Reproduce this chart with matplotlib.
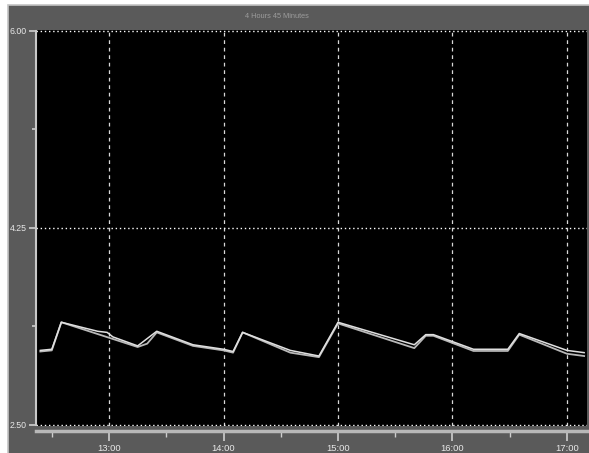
import matplotlib
matplotlib.use("Agg")
import matplotlib.pyplot as plt
from matplotlib.patches import Rectangle
from matplotlib.ticker import FixedLocator, FuncFormatter

# two readings over the afternoon
times_a = ["12:24", "12:30", "12:35", "12:54", "12:59", "13:02", "13:15", "13:25", "13:44",
           "14:00", "14:05", "14:10", "14:35", "14:50", "15:00", "15:40", "15:46", "15:50",
           "16:11", "16:25", "16:29", "16:35", "17:00", "17:09"]
values_a = [3.16, 3.17, 3.41, 3.33, 3.32, 3.28, 3.20, 3.33, 3.21,
            3.17, 3.15, 3.32, 3.16, 3.11, 3.41, 3.21, 3.30, 3.30,
            3.17, 3.17, 3.17, 3.31, 3.16, 3.14]

times_b = ["12:24", "12:30", "12:35", "13:15", "13:20", "13:25", "13:44", "14:00", "14:05",
           "14:10", "14:35", "14:50", "15:00", "15:40", "15:46", "15:50", "16:11", "16:29",
           "16:35", "17:00", "17:09"]
values_b = [3.15, 3.16, 3.41, 3.19, 3.22, 3.32, 3.20, 3.16, 3.14,
            3.32, 3.14, 3.10, 3.40, 3.18, 3.29, 3.29, 3.155, 3.155,
            3.30, 3.13, 3.11]

title = "4 Hours 45 Minutes"
y_ticks = [2.50, 4.25, 6.00]
hour_ticks = [13, 14, 15, 16, 17]


def to_hours(hhmm):
    h, m = hhmm.split(":")
    return int(h) + int(m) / 60


plt.rcParams["font.family"] = ["Liberation Sans Narrow", "Liberation Sans", "DejaVu Sans"]
plt.rcParams["font.stretch"] = "condensed"

W, H = 589, 453
fig = plt.figure(figsize=(W / 100, H / 100), dpi=100)
fig.patch.set_facecolor("white")

# grey frame behind the chart
fig.patches.append(Rectangle((8 / W, -0.01), 1, 1.01 - 5 / H, transform=fig.transFigure,
                             facecolor="#5a5a5a", edgecolor="#c4c4c4", linewidth=1.2,
                             zorder=-10))

ax = fig.add_axes([36 / W, 1 - 426 / H, (587 - 36) / W, (426 - 29.5) / H])
ax.set_facecolor("black")

ax.plot([to_hours(t) for t in times_b], values_b, color="#b8b8b8", lw=1.3)
ax.plot([to_hours(t) for t in times_a], values_a, color="#e0e0e0", lw=1.1)

ax.set_xlim(12.362, 17.175)
ax.set_ylim(2.488, 6.012)

# y axis
ax.yaxis.set_major_locator(FixedLocator(y_ticks))
ax.yaxis.set_minor_locator(FixedLocator([3.375, 5.125]))
ax.yaxis.set_major_formatter(FuncFormatter(lambda v, p: "%.2f" % v))
ax.tick_params(axis="y", which="both", direction="out", colors="#cfcfcf",
               labelcolor="#e8e8e8", labelsize=6.3, pad=1.5)
ax.tick_params(axis="y", which="major", length=5, width=1.2)
ax.tick_params(axis="y", which="minor", length=3, width=1.2)

# x axis sits on a bar below the plot
ax.xaxis.set_major_locator(FixedLocator(hour_ticks))
ax.xaxis.set_minor_locator(FixedLocator([12.5, 13.5, 14.5, 15.5, 16.5]))
ax.xaxis.set_major_formatter(FuncFormatter(lambda v, p: "%d:00" % v))
ax.tick_params(axis="x", which="both", direction="out", colors="#cfcfcf",
               labelcolor="#e8e8e8", labelsize=6.8, pad=2.5)
ax.tick_params(axis="x", which="major", length=7, width=1.2)
ax.tick_params(axis="x", which="minor", length=4, width=1)

ax.spines["top"].set_visible(False)
ax.spines["right"].set_visible(False)
ax.spines["left"].set_color("#c8c8c8")
ax.spines["left"].set_linewidth(1.5)
ax.spines["left"].set_bounds(2.50, 6.00)
ax.spines["bottom"].set_position(("outward", 3.5))
ax.spines["bottom"].set_color("#b8b8b8")
ax.spines["bottom"].set_linewidth(2.5)

ax.grid(axis="y", which="major", color="white", linestyle=(0, (1, 2)), lw=1)
ax.grid(axis="x", which="major", color="#d8d8d8", linestyle=(0, (3, 3)), lw=0.9)
ax.set_axisbelow(True)

fig.text(277 / W, 1 - 17 / H, title, color="#9c9c9c", fontsize=5.3,
         ha="center", va="center")

plt.savefig("out.png", dpi=100, facecolor=fig.get_facecolor())
